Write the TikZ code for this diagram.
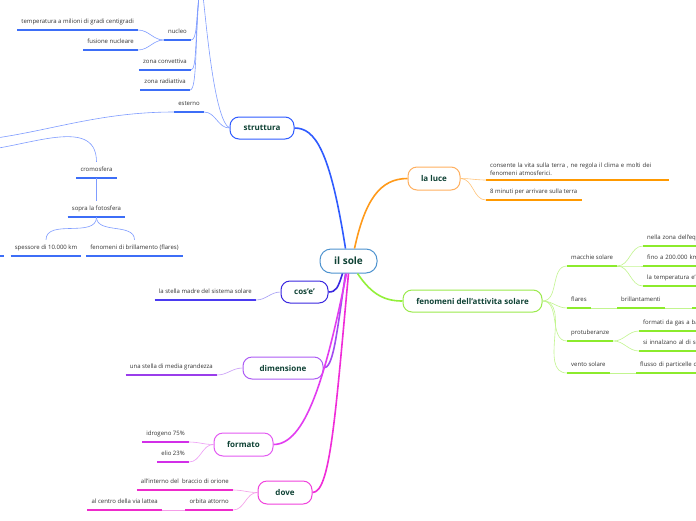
\documentclass[tikz,border=0pt]{standalone}
\usepackage{fontspec}
\setmainfont{Open Sans}
\definecolor{lbl}{HTML}{0F4235}
\definecolor{leaftxt}{HTML}{333333}
\definecolor{soleB}{HTML}{4E93CF}
\definecolor{bMain}{HTML}{2F5BFF}
\definecolor{bUl}{HTML}{3D6EF7}
\definecolor{bCon}{HTML}{7F9CFF}
\definecolor{oMain}{HTML}{FF9A1A}
\definecolor{oBox}{HTML}{FFB060}
\definecolor{oUl}{HTML}{FF9900}
\definecolor{oCon}{HTML}{FFC47A}
\definecolor{gMain}{HTML}{93F03A}
\definecolor{gBox}{HTML}{9BEA4C}
\definecolor{gUl}{HTML}{8CEB2C}
\definecolor{gCon}{HTML}{C2F58F}
\definecolor{cMain}{HTML}{3A27E0}
\definecolor{cUl}{HTML}{4A3AF0}
\definecolor{cCon}{HTML}{A49CF5}
\definecolor{dMain}{HTML}{A24BF0}
\definecolor{dBox}{HTML}{AD5CF5}
\definecolor{dUl}{HTML}{9A3DEB}
\definecolor{dCon}{HTML}{C79AF7}
\definecolor{fMain}{HTML}{E23CF0}
\definecolor{fBox}{HTML}{E35AF2}
\definecolor{fUl}{HTML}{D22FE8}
\definecolor{fCon}{HTML}{EE9CF6}
\definecolor{vMain}{HTML}{F02CD8}
\definecolor{vBox}{HTML}{F042DC}
\definecolor{vUl}{HTML}{EE2ACB}
\definecolor{vCon}{HTML}{F59DE8}
\begin{document}
\begin{tikzpicture}[x=1pt,y=1pt,
  topic/.style={draw=#1, line width=1pt, rounded corners=9pt, fill=white,
    font=\bfseries\fontsize{8}{9}\selectfont, text=lbl, inner sep=0pt},
  leafbase/.style={inner xsep=4pt, inner ysep=5pt, text height=4.4pt, text depth=1.3pt,
    font=\fontsize{6}{7}\selectfont, text=leaftxt,
    append after command={(\tikzlastnode.south west) edge[draw=#1, line width=2.2pt] (\tikzlastnode.south east)}},
  leafL/.style={leafbase=#1, anchor=south east},
  leafR/.style={leafbase=#1, anchor=south west},
  leafC/.style={leafbase=#1, anchor=south},
  cut/.style={text width=#1, align=left},
  con/.style={draw=#1, line width=0.6pt},
  mainline/.style={draw=#1, line width=1.6pt},
]
\useasboundingbox (0,0) rectangle (696,-520);
\fill[white] (0,0) rectangle (696,-520);
\clip (0,0) rectangle (696,-520);

% central topic
\node[draw=soleB, line width=1pt, rounded corners=11pt, fill=white, minimum width=57pt, minimum height=24pt,
  inner sep=0pt, font=\bfseries\fontsize{10}{12}\selectfont, text=lbl] (sole) at (348.5,-261) {il sole};

% main topics
\node[topic=bMain, minimum width=64pt, minimum height=22pt] (strut) at (262,-128) {struttura};
\node[topic=oBox, minimum width=52pt, minimum height=23pt] (luce) at (434,-178.5) {la luce};
\node[topic=gBox, minimum width=139pt, minimum height=22pt] (fen) at (472.5,-301) {fenomeni dell'attivita solare};
\node[topic=cMain, minimum width=47pt, minimum height=22pt] (cose) at (304.5,-292) {cos'e'};
\node[topic=dBox, minimum width=80pt, minimum height=22pt] (dim) at (283,-368) {dimensione};
\node[topic=fBox, minimum width=59pt, minimum height=23pt] (form) at (243.5,-444.5) {formato};
\node[topic=vBox, minimum width=54pt, minimum height=23pt] (dove) at (285,-492.5) {dove};

% main connectors
\draw[mainline=bMain] ([xshift=-3pt]sole.north) .. controls (330,-150) and (315,-128) .. (strut.east);
\draw[mainline=oMain] ([xshift=6pt]sole.north) .. controls (365,-200) and (380,-178.5) .. (luce.west);
\draw[mainline=gMain] ([xshift=9pt]sole.south) .. controls (372,-295) and (385,-301) .. (fen.west);
\draw[mainline=cMain] ([xshift=-6pt]sole.south) .. controls (338,-288) and (336,-292) .. (cose.east);
\draw[mainline=dMain] ([xshift=-3pt]sole.south) .. controls (336,-340) and (333,-368) .. (dim.east);
\draw[mainline=fMain] ([xshift=-2pt]sole.south) .. controls (325,-380) and (305,-444.5) .. (form.east);
\draw[mainline=vMain] ([xshift=0pt]sole.south) .. controls (335,-420) and (330,-492.5) .. (dove.east);

% ---- struttura branch
\coordinate (intL) at (199,4);
\coordinate (intR) at (203,4);
\node[leafL=bUl] (nucleo) at (191,-40) {nucleo};
\node[leafL=bUl] (temp) at (138,-30) {temperatura a milioni di gradi centigradi};
\node[leafL=bUl] (fus) at (138,-50) {fusione nucleare};
\node[leafL=bUl] (zconv) at (191,-70) {zona convettiva};
\node[leafL=bUl] (zrad) at (190,-90) {zona radiattiva};
\node[leafL=bUl] (est) at (204,-112) {esterno};
\draw[con=bCon] (strut.west) .. controls (214,-120) and (206,-20) .. (intR);
\draw[con=bCon] (intL) .. controls (196,-22) and (197,-40) .. (nucleo.south east);
\draw[con=bCon] (intL) .. controls (195,-35) and (197,-70) .. (zconv.south east);
\draw[con=bCon] (intL) .. controls (195,-45) and (197,-90) .. (zrad.south east);
\draw[con=bCon] (strut.west) to[out=180,in=0] (est.south east);
\draw[con=bCon] (nucleo.south west) to[out=180,in=0] (temp.south east);
\draw[con=bCon] (nucleo.south west) to[out=180,in=0] (fus.south east);

\coordinate (ext1) at (-70,-143);
\draw[con=bCon] (est.south west) to[out=180,in=0] (ext1);

\coordinate (cp) at (-30,-151);
\node[leafC=bUl] (crom) at (96.5,-178) {cromosfera};
\node[leafC=bUl] (sopra) at (96.5,-217) {sopra la fotosfera};
\node[leafC=bUl] (spess) at (46,-256) {spessore di 10.000 km};
\node[leafC=bUl] (brill) at (134.5,-256) {fenomeni di brillamento (flares)};
\draw[con=bCon] (cp) to[out=0,in=90] (crom.north);
\draw[con=bCon] (crom.south) -- (sopra.north);
\draw[con=bCon] (sopra.south) to[out=-90,in=90] (spess.north);
\draw[con=bCon] (sopra.south) to[out=-90,in=90] (brill.north);
\coordinate (offA) at (-30,-256);
\coordinate (offB) at (4,-256);
\draw[bUl, line width=2.2pt] (offA) -- (offB);

% ---- la luce branch
\node[anchor=south west, inner xsep=4pt, inner ysep=4.5pt, text width=175pt, align=left, font=\fontsize{6}{8}\selectfont, text=leaftxt,
  append after command={(\tikzlastnode.south west) edge[draw=oUl, line width=2.2pt] (\tikzlastnode.south east)}]
  (cons) at (486,-180) {consente la vita sulla terra , ne regola il clima e molti dei\\fenomeni atmosferici.};
\node[leafR=oUl] (min) at (486,-200) {8 minuti per arrivare sulla terra};
\draw[con=oCon] (luce.east) to[out=0,in=180] (cons.south west);
\draw[con=oCon] (luce.east) to[out=0,in=180] (min.south west);

% ---- fenomeni branch
\node[leafR=gUl] (macch) at (567,-266) {macchie solare};
\node[leafR=gUl, cut=70pt] (nella) at (643,-246) {nella zona dell'equ};
\node[leafR=gUl, cut=70pt] (fino) at (643,-266) {fino a 200.000 km};
\node[leafR=gUl, cut=70pt] (tempe) at (643,-286) {la temperatura e'};
\node[leafR=gUl] (flares) at (567,-308) {flares};
\node[leafR=gUl] (brillan) at (617,-308) {brillantamenti};
\node[leafR=gUl, cut=20pt] (eee) at (692,-308) {e};
\node[leafR=gUl] (protu) at (567,-341) {protuberanze};
\node[leafR=gUl, cut=70pt] (formati) at (639,-331) {formati da gas a ba};
\node[leafR=gUl, cut=70pt] (innalz) at (639,-351) {si innalzano al di so};
\node[leafR=gUl] (vento) at (567,-373) {vento solare};
\node[leafR=gUl, cut=70pt] (flusso) at (636,-373) {flusso di particelle c};
\draw[con=gCon] (fen.east) to[out=0,in=180] (macch.south west);
\draw[con=gCon] (fen.east) to[out=0,in=180] (flares.south west);
\draw[con=gCon] (fen.east) to[out=0,in=180] (protu.south west);
\draw[con=gCon] (fen.east) to[out=0,in=180] (vento.south west);
\draw[con=gCon] (macch.south east) to[out=0,in=180] (nella.south west);
\draw[con=gCon] (macch.south east) to[out=0,in=180] (fino.south west);
\draw[con=gCon] (macch.south east) to[out=0,in=180] (tempe.south west);
\draw[con=gCon] (flares.south east) -- (brillan.south west);
\draw[con=gCon] (brillan.south east) -- (eee.south west);
\draw[con=gCon] (protu.south east) to[out=0,in=180] (formati.south west);
\draw[con=gCon] (protu.south east) to[out=0,in=180] (innalz.south west);
\draw[con=gCon] (vento.south east) -- (flusso.south west);

% ---- cos'e'
\node[leafL=cUl] (madre) at (256,-300) {la stella madre del sistema solare};
\draw[con=cCon] (cose.west) to[out=180,in=0] (madre.south east);

% ---- dimensione
\node[leafL=dUl] (media) at (217,-375) {una stella di media grandezza};
\draw[con=dCon] (dim.west) to[out=180,in=0] (media.south east);

% ---- formato
\node[leafL=fUl] (idro) at (189,-442) {idrogeno 75\%};
\node[leafL=fUl] (elio) at (189,-462) {elio 23\%};
\draw[con=fCon] (form.west) to[out=180,in=0] (idro.south east);
\draw[con=fCon] (form.west) to[out=180,in=0] (elio.south east);

% ---- dove
\node[leafL=vUl] (inter) at (233,-490) {all'interno del \ braccio di orione};
\node[leafL=vUl] (orbita) at (233,-510) {orbita attorno};
\node[leafL=vUl] (centro) at (162,-510) {al centro della via lattea};
\draw[con=vCon] (dove.west) to[out=180,in=0] (inter.south east);
\draw[con=vCon] (dove.west) to[out=180,in=0] (orbita.south east);
\draw[con=vCon] (orbita.south west) -- (centro.south east);
\end{tikzpicture}
\end{document}
